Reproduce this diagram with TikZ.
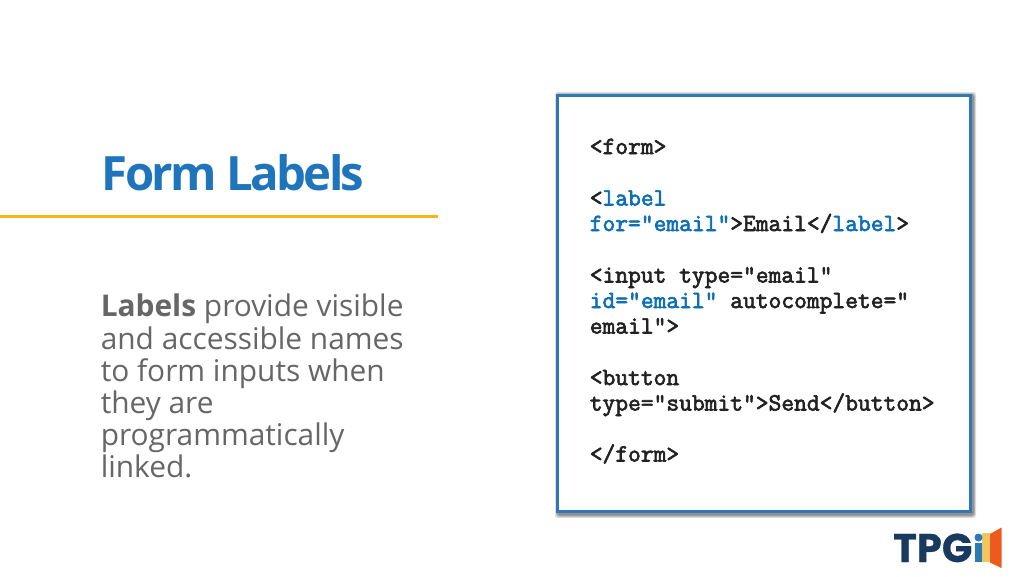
\documentclass[tikz,border=0pt]{standalone}
\usepackage{fontspec}
\setmainfont{Open Sans}
\newfontfamily\titlefont[LetterSpace=-5.7]{Open Sans}
\newfontfamily\logofont[FakeBold=0.6]{Poppins}
\newfontfamily\codefont[FakeBold=2.6]{Latin Modern Mono}
\definecolor{tblue}{HTML}{1F75BC}
\definecolor{kwblue}{HTML}{0F6FB5}
\definecolor{tgold}{HTML}{F7B41C}
\definecolor{tgrey}{HTML}{666666}
\definecolor{boxblue}{HTML}{2F78B4}
\definecolor{codeink}{HTML}{222222}
\definecolor{navy}{HTML}{173A5E}
\definecolor{lblue}{HTML}{2B79B5}
\definecolor{lyellow}{HTML}{EFC75E}
\definecolor{lorange}{HTML}{EE5A1E}
\tikzset{
  codeline/.style={anchor=base west,inner sep=0pt,text=codeink,font=\codefont\fontsize{18.6pt}{20pt}\selectfont},
  bodyline/.style={anchor=base west,inner sep=0pt,text=tgrey,font=\fontsize{22.4pt}{26pt}\selectfont},
  shadowlayer/.style={fill=black,fill opacity=.13,rounded corners=2pt},
}
\newcommand{\kw}[1]{\textcolor{kwblue}{#1}}
\begin{document}
\begin{tikzpicture}[x=0.75pt,y=-0.75pt]
\useasboundingbox (0,0) rectangle (1024,576);
\fill[white] (0,0) rectangle (1024,576);
% code box shadow
\fill[shadowlayer] (555,92) rectangle (976,518);
\fill[shadowlayer] (556,93) rectangle (975,517);
\fill[shadowlayer] (557,94) rectangle (974.5,516);
\fill[shadowlayer] (557,94) rectangle (974,515.5);
\draw[boxblue,line width=2.6pt,fill=white] (557.7,95.7) rectangle (970.3,511.7);
% title
\node[anchor=base west,inner sep=0pt,text=tblue,font=\titlefont\bfseries\fontsize{35.5pt}{40pt}\selectfont] (title) at (101.5,190) {Form Labels};
\draw[tgold,line width=2.6pt] (0,216.5) -- (438,216.5);
% body
\node[bodyline] (b1) at (100.5,316.5) {\textbf{Labels} provide visible};
\node[bodyline] (b2) at (100.5,349) {and accessible names};
\node[bodyline] (b3) at (100.5,381) {to form inputs when};
\node[bodyline] (b4) at (100.5,413) {they are};
\node[bodyline] (b5) at (100.5,445) {programmatically};
\node[bodyline] (b6) at (100.5,477) {linked.};
% code
\node[codeline] (c1) at (589.5,154) {<form>};
\node[codeline] (c2) at (589.5,205.5) {<\kw{label}};
\node[codeline] (c3) at (589.5,231) {\kw{for="email"}>Email</\kw{label}>};
\node[codeline] (c4) at (589.5,282.5) {<input type="email"};
\node[codeline] (c5) at (589.5,308) {\kw{id="email"} autocomplete="};
\node[codeline] (c6) at (589.5,333.5) {email">};
\node[codeline] (c7) at (589.5,385) {<button};
\node[codeline] (c8) at (589.5,410.5) {type="submit">Send</button>};
\node[codeline] (c9) at (589.5,461.5) {</form>};
% logo
\fill[lorange] (990,534) -- (1001.5,527.5) -- (1001.5,568) -- (990,562.5) -- cycle;
\fill[lyellow] (982,533) rectangle (990,562);
\fill[lblue] (974.5,543) rectangle (982,562);
\fill[lblue] (978.5,537.5) circle (4);
\node[anchor=base west,inner sep=0pt,text=navy,font=\logofont\bfseries\fontsize{30pt}{32pt}\selectfont] (logo) at (893,562) {TPG};
\end{tikzpicture}
\end{document}
